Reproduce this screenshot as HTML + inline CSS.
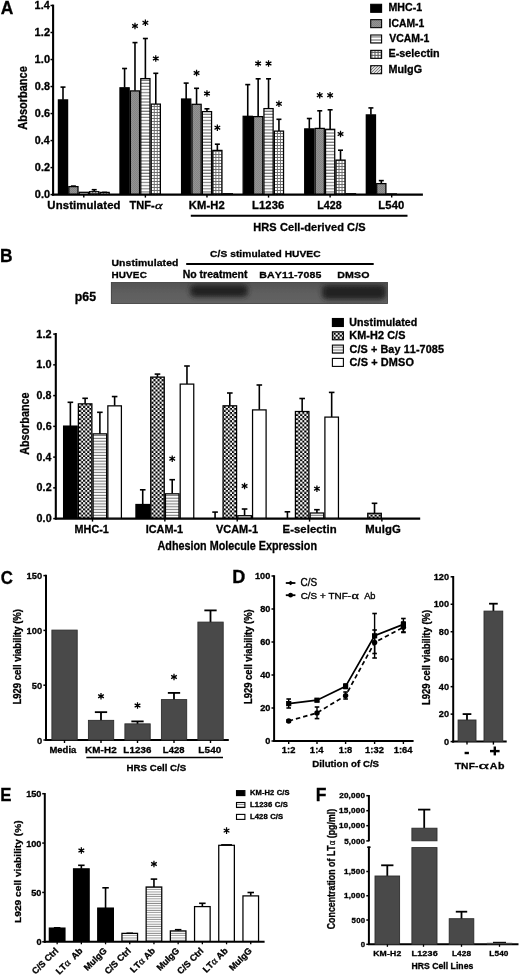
<!DOCTYPE html>
<html><head><meta charset="utf-8"><style>
html,body{margin:0;padding:0;background:#fff;width:520px;height:976px;overflow:hidden}
svg{display:block;font-family:"Liberation Sans",sans-serif}
text{font-kerning:none;stroke:#000;stroke-width:0.3px}
</style></head><body>
<svg width="520" height="976" viewBox="0 0 520 976">
<defs>
<pattern id="pGray" width="2" height="2" patternUnits="userSpaceOnUse"><rect width="2" height="2" fill="#939393"/><rect width="1" height="1" fill="#838383"/><rect x="1" y="1" width="1" height="1" fill="#838383"/></pattern>
<pattern id="pHstripe" width="4" height="3.1" patternUnits="userSpaceOnUse" y="0.3"><rect width="4" height="3.1" fill="#fff"/><rect y="1.9" width="4" height="1.2" fill="#7a7a7a"/></pattern>
<pattern id="pHstripeB" width="4" height="2.85" patternUnits="userSpaceOnUse"><rect width="4" height="2.85" fill="#fff"/><rect y="1.75" width="4" height="1.1" fill="#7a7a7a"/></pattern>
<pattern id="pHstripe2" width="4" height="2.3" patternUnits="userSpaceOnUse"><rect width="4" height="2.3" fill="#fff"/><rect y="1.4" width="4" height="0.9" fill="#8a8a8a"/></pattern>
<pattern id="pGrid" width="3.1" height="3.1" patternUnits="userSpaceOnUse" x="0.4" y="0.3"><rect width="3.1" height="3.1" fill="#fff"/><rect x="2.0" width="1.1" height="3.1" fill="#5a5a5a"/><rect y="2.0" width="3.1" height="1.1" fill="#5a5a5a"/></pattern>
<pattern id="pDiag" width="3" height="3" patternUnits="userSpaceOnUse"><rect width="3" height="3" fill="#ddd"/><path d="M0 3L3 0" stroke="#666" stroke-width="0.8"/></pattern>
<pattern id="pCheck" width="4.1" height="4.1" patternUnits="userSpaceOnUse" x="333.6" y="318.3"><rect width="4.1" height="4.1" fill="#fff"/><rect x="2.05" width="2.05" height="2.05" fill="#000"/><rect y="2.05" width="2.05" height="2.05" fill="#000"/></pattern>
<linearGradient id="blotbg" x1="0" x2="0" y1="0" y2="1"><stop offset="0" stop-color="#525252"/><stop offset="0.5" stop-color="#5e5e5e"/><stop offset="1" stop-color="#646464"/></linearGradient>
<filter id="soft" x="0" y="0" width="100%" height="100%"><feGaussianBlur stdDeviation="0.35"/></filter>
<filter id="blur3" x="-50%" y="-50%" width="200%" height="200%"><feGaussianBlur stdDeviation="2.8"/></filter>
<clipPath id="blotclip"><rect x="111" y="282.2" width="276.8" height="21.6"/></clipPath>
</defs>
<defs><pattern id="grid0" width="3.0" height="3.0" patternUnits="userSpaceOnUse" x="90.2" y="194"><rect width="3" height="3" fill="#fff"/><rect x="2.05" width="0.95" height="3" fill="#6a6a6a"/><rect y="2.05" width="3" height="0.95" fill="#6a6a6a"/></pattern><pattern id="grid1" width="3.0" height="3.0" patternUnits="userSpaceOnUse" x="151.78" y="194"><rect width="3" height="3" fill="#fff"/><rect x="2.05" width="0.95" height="3" fill="#6a6a6a"/><rect y="2.05" width="3" height="0.95" fill="#6a6a6a"/></pattern><pattern id="grid2" width="3.0" height="3.0" patternUnits="userSpaceOnUse" x="213.36" y="194"><rect width="3" height="3" fill="#fff"/><rect x="2.05" width="0.95" height="3" fill="#6a6a6a"/><rect y="2.05" width="3" height="0.95" fill="#6a6a6a"/></pattern><pattern id="grid3" width="3.0" height="3.0" patternUnits="userSpaceOnUse" x="274.94" y="194"><rect width="3" height="3" fill="#fff"/><rect x="2.05" width="0.95" height="3" fill="#6a6a6a"/><rect y="2.05" width="3" height="0.95" fill="#6a6a6a"/></pattern><pattern id="grid4" width="3.0" height="3.0" patternUnits="userSpaceOnUse" x="336.52" y="194"><rect width="3" height="3" fill="#fff"/><rect x="2.05" width="0.95" height="3" fill="#6a6a6a"/><rect y="2.05" width="3" height="0.95" fill="#6a6a6a"/></pattern><pattern id="grid5" width="3.0" height="3.0" patternUnits="userSpaceOnUse" x="398.1" y="194"><rect width="3" height="3" fill="#fff"/><rect x="2.05" width="0.95" height="3" fill="#6a6a6a"/><rect y="2.05" width="3" height="0.95" fill="#6a6a6a"/></pattern><pattern id="chk0" width="4.1" height="4.1" patternUnits="userSpaceOnUse" x="79.05" y="518.6"><rect width="4.1" height="4.1" fill="#fff"/><rect x="2.05" width="2.05" height="2.05" fill="#000"/><rect y="2.05" width="2.05" height="2.05" fill="#000"/></pattern><pattern id="chk1" width="4.1" height="4.1" patternUnits="userSpaceOnUse" x="151.4" y="518.6"><rect width="4.1" height="4.1" fill="#fff"/><rect x="2.05" width="2.05" height="2.05" fill="#000"/><rect y="2.05" width="2.05" height="2.05" fill="#000"/></pattern><pattern id="chk2" width="4.1" height="4.1" patternUnits="userSpaceOnUse" x="223.75" y="518.6"><rect width="4.1" height="4.1" fill="#fff"/><rect x="2.05" width="2.05" height="2.05" fill="#000"/><rect y="2.05" width="2.05" height="2.05" fill="#000"/></pattern><pattern id="chk3" width="4.1" height="4.1" patternUnits="userSpaceOnUse" x="296.1" y="518.6"><rect width="4.1" height="4.1" fill="#fff"/><rect x="2.05" width="2.05" height="2.05" fill="#000"/><rect y="2.05" width="2.05" height="2.05" fill="#000"/></pattern><pattern id="chk4" width="4.1" height="4.1" patternUnits="userSpaceOnUse" x="368.45" y="518.6"><rect width="4.1" height="4.1" fill="#fff"/><rect x="2.05" width="2.05" height="2.05" fill="#000"/><rect y="2.05" width="2.05" height="2.05" fill="#000"/></pattern></defs>
<g filter="url(#soft)">
<rect width="520" height="976" fill="#fff"/>
<text x="0.85" y="13.75" font-size="18.17" font-weight="bold" letter-spacing="0.000" transform="scale(0.9598 1)">A</text>
<line x1="53.1" y1="4.6" x2="53.1" y2="195.6" stroke="#000" stroke-width="2.1"/>
<line x1="52.1" y1="194.6" x2="422.9" y2="194.6" stroke="#000" stroke-width="2.1"/>
<line x1="50.5" y1="194.6" x2="53.1" y2="194.6" stroke="#000" stroke-width="1.5"/>
<text x="32.51" y="198.15" font-size="10.17" font-weight="bold" letter-spacing="0.111" transform="scale(1.0711 1)">0.0</text>
<line x1="50.5" y1="167.59" x2="53.1" y2="167.59" stroke="#000" stroke-width="1.5"/>
<text x="32.53" y="171.14" font-size="10.17" font-weight="bold" letter-spacing="0.110" transform="scale(1.0705 1)">0.2</text>
<line x1="50.5" y1="140.57" x2="53.1" y2="140.57" stroke="#000" stroke-width="1.5"/>
<text x="33.23" y="144.12" font-size="10.17" font-weight="bold" letter-spacing="0.078" transform="scale(1.0480 1)">0.4</text>
<line x1="50.5" y1="113.56" x2="53.1" y2="113.56" stroke="#000" stroke-width="1.5"/>
<text x="32.61" y="117.11" font-size="10.17" font-weight="bold" letter-spacing="0.106" transform="scale(1.0679 1)">0.6</text>
<line x1="50.5" y1="86.54" x2="53.1" y2="86.54" stroke="#000" stroke-width="1.5"/>
<text x="32.72" y="90.09" font-size="10.17" font-weight="bold" letter-spacing="0.101" transform="scale(1.0643 1)">0.8</text>
<line x1="50.5" y1="59.53" x2="53.1" y2="59.53" stroke="#000" stroke-width="1.5"/>
<text x="31.79" y="63.08" font-size="10.17" font-weight="bold" letter-spacing="0.131" transform="scale(1.0870 1)">1.0</text>
<line x1="50.5" y1="32.51" x2="53.1" y2="32.51" stroke="#000" stroke-width="1.5"/>
<text x="31.81" y="36.06" font-size="10.17" font-weight="bold" letter-spacing="0.130" transform="scale(1.0863 1)">1.2</text>
<line x1="50.5" y1="5.5" x2="53.1" y2="5.5" stroke="#000" stroke-width="1.5"/>
<text x="32.91" y="9.05" font-size="10.32" font-weight="bold" letter-spacing="0.082" transform="scale(1.0504 1)">1.4</text>
<text x="-144.04" y="26.55" font-size="12.21" font-weight="bold" letter-spacing="0.000" transform="rotate(-90) scale(0.9006 1)">Absorbance</text>
<line x1="63" y1="99.8" x2="63" y2="87.1" stroke="#000" stroke-width="1.6"/>
<line x1="60.5" y1="87.1" x2="65.5" y2="87.1" stroke="#000" stroke-width="1.6"/>
<rect x="58.4" y="99.9" width="9.2" height="94.2" fill="#000" stroke="#000" stroke-width="1.25"/>
<line x1="73.4" y1="186.5" x2="73.4" y2="186.1" stroke="#000" stroke-width="1.6"/>
<line x1="70.9" y1="186.1" x2="75.9" y2="186.1" stroke="#000" stroke-width="1.6"/>
<rect x="68.8" y="186.6" width="9.2" height="7.5" fill="url(#pGray)" stroke="#000" stroke-width="1.25"/>
<rect x="79.2" y="192.3" width="9.2" height="1.8" fill="url(#pHstripe)" stroke="#000" stroke-width="1.25"/>
<line x1="94.2" y1="191.6" x2="94.2" y2="189.7" stroke="#000" stroke-width="1.6"/>
<line x1="91.7" y1="189.7" x2="96.7" y2="189.7" stroke="#000" stroke-width="1.6"/>
<rect x="89.6" y="191.7" width="9.2" height="2.4" fill="url(#grid0)" stroke="#000" stroke-width="1.25"/>
<line x1="104.6" y1="192.3" x2="104.6" y2="192.4" stroke="#000" stroke-width="1.6"/>
<line x1="102.1" y1="192.4" x2="107.1" y2="192.4" stroke="#000" stroke-width="1.6"/>
<rect x="100" y="192.4" width="9.2" height="1.7" fill="url(#pDiag)" stroke="#000" stroke-width="1.25"/>
<line x1="83.8" y1="194.6" x2="83.8" y2="197.6" stroke="#000" stroke-width="1.4"/>
<line x1="124.58" y1="87.7" x2="124.58" y2="68.5" stroke="#000" stroke-width="1.6"/>
<line x1="122.08" y1="68.5" x2="127.08" y2="68.5" stroke="#000" stroke-width="1.6"/>
<rect x="119.98" y="87.8" width="9.2" height="106.3" fill="#000" stroke="#000" stroke-width="1.25"/>
<line x1="134.98" y1="90.8" x2="134.98" y2="42.6" stroke="#000" stroke-width="1.6"/>
<line x1="132.48" y1="42.6" x2="137.48" y2="42.6" stroke="#000" stroke-width="1.6"/>
<rect x="130.38" y="90.9" width="9.2" height="103.2" fill="url(#pGray)" stroke="#000" stroke-width="1.25"/>
<path d="M134.98 22.7L134.98 29.3M137.84 24.35L132.12 27.65M137.84 27.65L132.12 24.35" stroke="#000" stroke-width="1.25"/>
<circle cx="134.98" cy="26" r="1.1" fill="#000"/>
<line x1="145.38" y1="78.5" x2="145.38" y2="38.5" stroke="#000" stroke-width="1.6"/>
<line x1="142.88" y1="38.5" x2="147.88" y2="38.5" stroke="#000" stroke-width="1.6"/>
<rect x="140.78" y="78.6" width="9.2" height="115.5" fill="url(#pHstripe)" stroke="#000" stroke-width="1.25"/>
<path d="M145.38 19.5L145.38 26.1M148.24 21.15L142.52 24.45M148.24 24.45L142.52 21.15" stroke="#000" stroke-width="1.25"/>
<circle cx="145.38" cy="22.8" r="1.1" fill="#000"/>
<line x1="155.78" y1="104" x2="155.78" y2="73.3" stroke="#000" stroke-width="1.6"/>
<line x1="153.28" y1="73.3" x2="158.28" y2="73.3" stroke="#000" stroke-width="1.6"/>
<rect x="151.18" y="104.1" width="9.2" height="90" fill="url(#grid1)" stroke="#000" stroke-width="1.25"/>
<path d="M155.78 55.2L155.78 61.8M158.64 56.85L152.92 60.15M158.64 60.15L152.92 56.85" stroke="#000" stroke-width="1.25"/>
<circle cx="155.78" cy="58.5" r="1.1" fill="#000"/>
<rect x="161.58" y="194.1" width="9.2" height="-0" fill="url(#pDiag)" stroke="#000" stroke-width="1.25"/>
<line x1="145.38" y1="194.6" x2="145.38" y2="197.6" stroke="#000" stroke-width="1.4"/>
<line x1="186.16" y1="98.9" x2="186.16" y2="83.1" stroke="#000" stroke-width="1.6"/>
<line x1="183.66" y1="83.1" x2="188.66" y2="83.1" stroke="#000" stroke-width="1.6"/>
<rect x="181.56" y="99" width="9.2" height="95.1" fill="#000" stroke="#000" stroke-width="1.25"/>
<line x1="196.56" y1="104.2" x2="196.56" y2="88.3" stroke="#000" stroke-width="1.6"/>
<line x1="194.06" y1="88.3" x2="199.06" y2="88.3" stroke="#000" stroke-width="1.6"/>
<rect x="191.96" y="104.3" width="9.2" height="89.8" fill="url(#pGray)" stroke="#000" stroke-width="1.25"/>
<path d="M196.56 69.7L196.56 76.3M199.42 71.35L193.7 74.65M199.42 74.65L193.7 71.35" stroke="#000" stroke-width="1.25"/>
<circle cx="196.56" cy="73" r="1.1" fill="#000"/>
<line x1="206.96" y1="111.5" x2="206.96" y2="108.8" stroke="#000" stroke-width="1.6"/>
<line x1="204.46" y1="108.8" x2="209.46" y2="108.8" stroke="#000" stroke-width="1.6"/>
<rect x="202.36" y="111.6" width="9.2" height="82.5" fill="url(#pHstripe)" stroke="#000" stroke-width="1.25"/>
<path d="M206.96 90.2L206.96 96.8M209.82 91.85L204.1 95.15M209.82 95.15L204.1 91.85" stroke="#000" stroke-width="1.25"/>
<circle cx="206.96" cy="93.5" r="1.1" fill="#000"/>
<line x1="217.36" y1="150.3" x2="217.36" y2="144.2" stroke="#000" stroke-width="1.6"/>
<line x1="214.86" y1="144.2" x2="219.86" y2="144.2" stroke="#000" stroke-width="1.6"/>
<rect x="212.76" y="150.4" width="9.2" height="43.7" fill="url(#grid2)" stroke="#000" stroke-width="1.25"/>
<path d="M217.36 124.4L217.36 131M220.22 126.05L214.5 129.35M220.22 129.35L214.5 126.05" stroke="#000" stroke-width="1.25"/>
<circle cx="217.36" cy="127.7" r="1.1" fill="#000"/>
<rect x="223.16" y="193.7" width="9.2" height="0.4" fill="url(#pDiag)" stroke="#000" stroke-width="1.25"/>
<line x1="206.96" y1="194.6" x2="206.96" y2="197.6" stroke="#000" stroke-width="1.4"/>
<line x1="247.74" y1="116.2" x2="247.74" y2="84.6" stroke="#000" stroke-width="1.6"/>
<line x1="245.24" y1="84.6" x2="250.24" y2="84.6" stroke="#000" stroke-width="1.6"/>
<rect x="243.14" y="116.3" width="9.2" height="77.8" fill="#000" stroke="#000" stroke-width="1.25"/>
<line x1="258.14" y1="116.5" x2="258.14" y2="78.8" stroke="#000" stroke-width="1.6"/>
<line x1="255.64" y1="78.8" x2="260.64" y2="78.8" stroke="#000" stroke-width="1.6"/>
<rect x="253.54" y="116.6" width="9.2" height="77.5" fill="url(#pGray)" stroke="#000" stroke-width="1.25"/>
<path d="M258.14 60.2L258.14 66.8M261 61.85L255.28 65.15M261 65.15L255.28 61.85" stroke="#000" stroke-width="1.25"/>
<circle cx="258.14" cy="63.5" r="1.1" fill="#000"/>
<line x1="268.54" y1="108.5" x2="268.54" y2="78.8" stroke="#000" stroke-width="1.6"/>
<line x1="266.04" y1="78.8" x2="271.04" y2="78.8" stroke="#000" stroke-width="1.6"/>
<rect x="263.94" y="108.6" width="9.2" height="85.5" fill="url(#pHstripe)" stroke="#000" stroke-width="1.25"/>
<path d="M268.54 60.2L268.54 66.8M271.4 61.85L265.68 65.15M271.4 65.15L265.68 61.85" stroke="#000" stroke-width="1.25"/>
<circle cx="268.54" cy="63.5" r="1.1" fill="#000"/>
<line x1="278.94" y1="131" x2="278.94" y2="119.3" stroke="#000" stroke-width="1.6"/>
<line x1="276.44" y1="119.3" x2="281.44" y2="119.3" stroke="#000" stroke-width="1.6"/>
<rect x="274.34" y="131.1" width="9.2" height="63" fill="url(#grid3)" stroke="#000" stroke-width="1.25"/>
<path d="M278.94 100.5L278.94 107.1M281.8 102.15L276.08 105.45M281.8 105.45L276.08 102.15" stroke="#000" stroke-width="1.25"/>
<circle cx="278.94" cy="103.8" r="1.1" fill="#000"/>
<rect x="284.74" y="194.3" width="9.2" height="-0.2" fill="url(#pDiag)" stroke="#000" stroke-width="1.25"/>
<line x1="268.54" y1="194.6" x2="268.54" y2="197.6" stroke="#000" stroke-width="1.4"/>
<line x1="309.32" y1="128.8" x2="309.32" y2="118.5" stroke="#000" stroke-width="1.6"/>
<line x1="306.82" y1="118.5" x2="311.82" y2="118.5" stroke="#000" stroke-width="1.6"/>
<rect x="304.72" y="128.9" width="9.2" height="65.2" fill="#000" stroke="#000" stroke-width="1.25"/>
<line x1="319.72" y1="128.3" x2="319.72" y2="110.8" stroke="#000" stroke-width="1.6"/>
<line x1="317.22" y1="110.8" x2="322.22" y2="110.8" stroke="#000" stroke-width="1.6"/>
<rect x="315.12" y="128.4" width="9.2" height="65.7" fill="url(#pGray)" stroke="#000" stroke-width="1.25"/>
<path d="M319.72 91.9L319.72 98.5M322.58 93.55L316.86 96.85M322.58 96.85L316.86 93.55" stroke="#000" stroke-width="1.25"/>
<circle cx="319.72" cy="95.2" r="1.1" fill="#000"/>
<line x1="330.12" y1="129.2" x2="330.12" y2="109.8" stroke="#000" stroke-width="1.6"/>
<line x1="327.62" y1="109.8" x2="332.62" y2="109.8" stroke="#000" stroke-width="1.6"/>
<rect x="325.52" y="129.3" width="9.2" height="64.8" fill="url(#pHstripe)" stroke="#000" stroke-width="1.25"/>
<path d="M330.12 91.9L330.12 98.5M332.98 93.55L327.26 96.85M332.98 96.85L327.26 93.55" stroke="#000" stroke-width="1.25"/>
<circle cx="330.12" cy="95.2" r="1.1" fill="#000"/>
<line x1="340.52" y1="160" x2="340.52" y2="150.2" stroke="#000" stroke-width="1.6"/>
<line x1="338.02" y1="150.2" x2="343.02" y2="150.2" stroke="#000" stroke-width="1.6"/>
<rect x="335.92" y="160.1" width="9.2" height="34" fill="url(#grid4)" stroke="#000" stroke-width="1.25"/>
<path d="M340.52 130.7L340.52 137.3M343.38 132.35L337.66 135.65M343.38 135.65L337.66 132.35" stroke="#000" stroke-width="1.25"/>
<circle cx="340.52" cy="134" r="1.1" fill="#000"/>
<rect x="346.32" y="193.7" width="9.2" height="0.4" fill="url(#pDiag)" stroke="#000" stroke-width="1.25"/>
<line x1="330.12" y1="194.6" x2="330.12" y2="197.6" stroke="#000" stroke-width="1.4"/>
<line x1="370.9" y1="114.8" x2="370.9" y2="107.9" stroke="#000" stroke-width="1.6"/>
<line x1="368.4" y1="107.9" x2="373.4" y2="107.9" stroke="#000" stroke-width="1.6"/>
<rect x="366.3" y="114.9" width="9.2" height="79.2" fill="#000" stroke="#000" stroke-width="1.25"/>
<line x1="381.3" y1="183.5" x2="381.3" y2="180.6" stroke="#000" stroke-width="1.6"/>
<line x1="378.8" y1="180.6" x2="383.8" y2="180.6" stroke="#000" stroke-width="1.6"/>
<rect x="376.7" y="183.6" width="9.2" height="10.5" fill="url(#pGray)" stroke="#000" stroke-width="1.25"/>
<rect x="387.1" y="193.9" width="9.2" height="0.2" fill="url(#pHstripe)" stroke="#000" stroke-width="1.25"/>
<rect x="397.5" y="194.1" width="9.2" height="-0" fill="url(#grid5)" stroke="#000" stroke-width="1.25"/>
<rect x="407.9" y="194.1" width="9.2" height="-0" fill="url(#pDiag)" stroke="#000" stroke-width="1.25"/>
<line x1="391.7" y1="194.6" x2="391.7" y2="197.6" stroke="#000" stroke-width="1.4"/>
<text x="43.57" y="208.55" font-size="10.43" font-weight="bold" letter-spacing="0.118" transform="scale(1.0872 1)">Unstimulated</text>
<text x="125.44" y="208.55" font-size="10.61" font-weight="bold" letter-spacing="0.064" transform="scale(1.0334 1)">TNF-</text>
<text x="110.68" y="209.05" font-size="10.18" font-weight="normal" letter-spacing="0.000" transform="scale(1.3996 1)" font-family="Liberation Serif"><tspan font-style="italic">α</tspan></text>
<text x="176.39" y="208.55" font-size="10.45" font-weight="bold" letter-spacing="0.131" transform="scale(1.0703 1)">KM-H2</text>
<text x="234.69" y="208.55" font-size="10.45" font-weight="bold" letter-spacing="0.123" transform="scale(1.0737 1)">L1236</text>
<text x="309.72" y="208.55" font-size="10.45" font-weight="bold" letter-spacing="0.045" transform="scale(1.0242 1)">L428</text>
<text x="351.09" y="208.55" font-size="10.45" font-weight="bold" letter-spacing="0.136" transform="scale(1.0775 1)">L540</text>
<line x1="190.8" y1="215.7" x2="407.5" y2="215.7" stroke="#000" stroke-width="1.9"/>
<text x="238.15" y="231.25" font-size="10.36" font-weight="bold" letter-spacing="0.081" transform="scale(1.0634 1)">HRS Cell-derived C/S</text>
<rect x="370.7" y="4.3" width="10.9" height="8" fill="#000" stroke="#000" stroke-width="1.1"/>
<text x="393.24" y="11.25" font-size="10.74" font-weight="bold" letter-spacing="0.000" transform="scale(0.9880 1)">MHC-1</text>
<rect x="370.7" y="19.65" width="10.9" height="8" fill="url(#pGray)" stroke="#000" stroke-width="1.1"/>
<text x="402.88" y="26.6" font-size="10.74" font-weight="bold" letter-spacing="0.000" transform="scale(0.9645 1)">ICAM-1</text>
<rect x="370.7" y="35" width="10.9" height="8" fill="url(#pHstripe)" stroke="#000" stroke-width="1.1"/>
<text x="398" y="41.95" font-size="10.74" font-weight="bold" letter-spacing="0.000" transform="scale(0.9778 1)">VCAM-1</text>
<rect x="370.7" y="50.35" width="10.9" height="8" fill="url(#pGrid)" stroke="#000" stroke-width="1.1"/>
<text x="385.61" y="57.3" font-size="10.71" font-weight="bold" letter-spacing="0.010" transform="scale(1.0076 1)">E-selectin</text>
<rect x="370.7" y="65.7" width="10.9" height="8" fill="url(#pDiag)" stroke="#000" stroke-width="1.1"/>
<text x="386.05" y="72.65" font-size="10.71" font-weight="bold" letter-spacing="0.013" transform="scale(1.0064 1)">MulgG</text>
<text x="0.1" y="262.05" font-size="18.97" font-weight="bold" letter-spacing="0.000" transform="scale(0.9163 1)">B</text>
<text x="104.08" y="266.35" font-size="9.71" font-weight="bold" letter-spacing="0.092" transform="scale(1.0715 1)">Unstimulated</text>
<text x="104.4" y="277.95" font-size="9.31" font-weight="bold" letter-spacing="0.126" transform="scale(1.0679 1)">HUVEC</text>
<text x="200.1" y="257.35" font-size="9.71" font-weight="bold" letter-spacing="0.065" transform="scale(1.0501 1)">C/S stimulated HUVEC</text>
<line x1="186.2" y1="263.9" x2="373.7" y2="263.9" stroke="#000" stroke-width="2"/>
<text x="179.75" y="277.75" font-size="10.32" font-weight="bold" letter-spacing="0.023" transform="scale(1.0161 1)">No treatment</text>
<text x="242.41" y="277.75" font-size="9.88" font-weight="bold" letter-spacing="0.102" transform="scale(1.0698 1)">BAY11-7085</text>
<text x="314.11" y="277.75" font-size="9.88" font-weight="bold" letter-spacing="0.163" transform="scale(1.0736 1)">DMSO</text>
<text x="73.65" y="301.05" font-size="12.17" font-weight="bold" letter-spacing="0.036" transform="scale(1.0147 1)">p65</text>
<rect x="111" y="282.2" width="276.8" height="21.6" fill="url(#blotbg)"/>
<g clip-path="url(#blotclip)"><rect x="190" y="284.5" width="58" height="12.5" rx="5" fill="#242424" filter="url(#blur3)"/>
<rect x="322" y="285" width="64" height="14.5" rx="5" fill="#202020" filter="url(#blur3)"/></g>
<rect x="111.3" y="282.5" width="276.2" height="21" fill="none" stroke="#444" stroke-width="0.8"/>
<line x1="55.8" y1="333" x2="55.8" y2="519.6" stroke="#000" stroke-width="2.1"/>
<line x1="54.8" y1="518.6" x2="420.2" y2="518.6" stroke="#000" stroke-width="2.1"/>
<line x1="53.2" y1="518.6" x2="55.8" y2="518.6" stroke="#000" stroke-width="1.5"/>
<text x="34.09" y="522.1" font-size="10.03" font-weight="bold" letter-spacing="0.109" transform="scale(1.0714 1)">0.0</text>
<line x1="53.2" y1="487.85" x2="55.8" y2="487.85" stroke="#000" stroke-width="1.5"/>
<text x="34.11" y="491.35" font-size="10.03" font-weight="bold" letter-spacing="0.108" transform="scale(1.0707 1)">0.2</text>
<line x1="53.2" y1="457.1" x2="55.8" y2="457.1" stroke="#000" stroke-width="1.5"/>
<text x="34.85" y="460.6" font-size="10.03" font-weight="bold" letter-spacing="0.078" transform="scale(1.0483 1)">0.4</text>
<line x1="53.2" y1="426.35" x2="55.8" y2="426.35" stroke="#000" stroke-width="1.5"/>
<text x="34.2" y="429.85" font-size="10.03" font-weight="bold" letter-spacing="0.105" transform="scale(1.0681 1)">0.6</text>
<line x1="53.2" y1="395.6" x2="55.8" y2="395.6" stroke="#000" stroke-width="1.5"/>
<text x="34.31" y="399.1" font-size="10.03" font-weight="bold" letter-spacing="0.100" transform="scale(1.0646 1)">0.8</text>
<line x1="53.2" y1="364.85" x2="55.8" y2="364.85" stroke="#000" stroke-width="1.5"/>
<text x="33.35" y="368.35" font-size="10.03" font-weight="bold" letter-spacing="0.129" transform="scale(1.0873 1)">1.0</text>
<line x1="53.2" y1="334.1" x2="55.8" y2="334.1" stroke="#000" stroke-width="1.5"/>
<text x="33.37" y="337.6" font-size="10.03" font-weight="bold" letter-spacing="0.129" transform="scale(1.0866 1)">1.2</text>
<text x="-514.82" y="28.55" font-size="12.21" font-weight="bold" letter-spacing="0.000" transform="rotate(-90) scale(0.8835 1)">Absorbance</text>
<line x1="70.38" y1="426" x2="70.38" y2="402.3" stroke="#000" stroke-width="1.6"/>
<line x1="67.58" y1="402.3" x2="73.17" y2="402.3" stroke="#000" stroke-width="1.6"/>
<rect x="63.6" y="426.1" width="13.55" height="92" fill="#000" stroke="#000" stroke-width="1.25"/>
<line x1="85.12" y1="403.75" x2="85.12" y2="398.3" stroke="#000" stroke-width="1.6"/>
<line x1="82.33" y1="398.3" x2="87.92" y2="398.3" stroke="#000" stroke-width="1.6"/>
<rect x="78.35" y="403.85" width="13.55" height="114.25" fill="url(#chk0)" stroke="#000" stroke-width="1.25"/>
<line x1="99.88" y1="433.75" x2="99.88" y2="412.3" stroke="#000" stroke-width="1.6"/>
<line x1="97.08" y1="412.3" x2="102.67" y2="412.3" stroke="#000" stroke-width="1.6"/>
<rect x="93.1" y="433.85" width="13.55" height="84.25" fill="url(#pHstripeB)" stroke="#000" stroke-width="1.25"/>
<line x1="114.62" y1="405.75" x2="114.62" y2="396.55" stroke="#000" stroke-width="1.6"/>
<line x1="111.83" y1="396.55" x2="117.42" y2="396.55" stroke="#000" stroke-width="1.6"/>
<rect x="107.85" y="405.85" width="13.55" height="112.25" fill="#fff" stroke="#000" stroke-width="1.25"/>
<line x1="92.5" y1="518.6" x2="92.5" y2="521.6" stroke="#000" stroke-width="1.4"/>
<line x1="142.72" y1="504.4" x2="142.72" y2="489.8" stroke="#000" stroke-width="1.6"/>
<line x1="139.92" y1="489.8" x2="145.53" y2="489.8" stroke="#000" stroke-width="1.6"/>
<rect x="135.95" y="504.5" width="13.55" height="13.6" fill="#000" stroke="#000" stroke-width="1.25"/>
<line x1="157.47" y1="377" x2="157.47" y2="374.1" stroke="#000" stroke-width="1.6"/>
<line x1="154.67" y1="374.1" x2="160.28" y2="374.1" stroke="#000" stroke-width="1.6"/>
<rect x="150.7" y="377.1" width="13.55" height="141" fill="url(#chk1)" stroke="#000" stroke-width="1.25"/>
<line x1="172.22" y1="493.7" x2="172.22" y2="479.7" stroke="#000" stroke-width="1.6"/>
<line x1="169.42" y1="479.7" x2="175.03" y2="479.7" stroke="#000" stroke-width="1.6"/>
<rect x="165.45" y="493.8" width="13.55" height="24.3" fill="url(#pHstripeB)" stroke="#000" stroke-width="1.25"/>
<path d="M172.22 455.4L172.22 462M175.08 457.05L169.37 460.35M175.08 460.35L169.37 457.05" stroke="#000" stroke-width="1.25"/>
<circle cx="172.22" cy="458.7" r="1.1" fill="#000"/>
<line x1="186.97" y1="384" x2="186.97" y2="366" stroke="#000" stroke-width="1.6"/>
<line x1="184.17" y1="366" x2="189.78" y2="366" stroke="#000" stroke-width="1.6"/>
<rect x="180.2" y="384.1" width="13.55" height="134" fill="#fff" stroke="#000" stroke-width="1.25"/>
<line x1="164.85" y1="518.6" x2="164.85" y2="521.6" stroke="#000" stroke-width="1.4"/>
<line x1="215.07" y1="518.6" x2="215.07" y2="512.1" stroke="#000" stroke-width="1.6"/>
<line x1="212.27" y1="512.1" x2="217.88" y2="512.1" stroke="#000" stroke-width="1.6"/>
<line x1="229.82" y1="405.7" x2="229.82" y2="393" stroke="#000" stroke-width="1.6"/>
<line x1="227.02" y1="393" x2="232.62" y2="393" stroke="#000" stroke-width="1.6"/>
<rect x="223.05" y="405.8" width="13.55" height="112.3" fill="url(#chk2)" stroke="#000" stroke-width="1.25"/>
<line x1="244.57" y1="515.6" x2="244.57" y2="509" stroke="#000" stroke-width="1.6"/>
<line x1="241.77" y1="509" x2="247.38" y2="509" stroke="#000" stroke-width="1.6"/>
<rect x="237.8" y="515.7" width="13.55" height="2.4" fill="url(#pHstripeB)" stroke="#000" stroke-width="1.25"/>
<path d="M244.57 482.7L244.57 489.3M247.43 484.35L241.72 487.65M247.43 487.65L241.72 484.35" stroke="#000" stroke-width="1.25"/>
<circle cx="244.57" cy="486" r="1.1" fill="#000"/>
<line x1="259.32" y1="409.8" x2="259.32" y2="385" stroke="#000" stroke-width="1.6"/>
<line x1="256.52" y1="385" x2="262.12" y2="385" stroke="#000" stroke-width="1.6"/>
<rect x="252.55" y="409.9" width="13.55" height="108.2" fill="#fff" stroke="#000" stroke-width="1.25"/>
<line x1="237.2" y1="518.6" x2="237.2" y2="521.6" stroke="#000" stroke-width="1.4"/>
<line x1="287.42" y1="518.6" x2="287.42" y2="511.8" stroke="#000" stroke-width="1.6"/>
<line x1="284.62" y1="511.8" x2="290.22" y2="511.8" stroke="#000" stroke-width="1.6"/>
<line x1="302.17" y1="411.4" x2="302.17" y2="398.5" stroke="#000" stroke-width="1.6"/>
<line x1="299.37" y1="398.5" x2="304.97" y2="398.5" stroke="#000" stroke-width="1.6"/>
<rect x="295.4" y="411.5" width="13.55" height="106.6" fill="url(#chk3)" stroke="#000" stroke-width="1.25"/>
<line x1="316.92" y1="512.9" x2="316.92" y2="509.7" stroke="#000" stroke-width="1.6"/>
<line x1="314.12" y1="509.7" x2="319.72" y2="509.7" stroke="#000" stroke-width="1.6"/>
<rect x="310.15" y="513" width="13.55" height="5.1" fill="url(#pHstripeB)" stroke="#000" stroke-width="1.25"/>
<path d="M316.92 485.4L316.92 492M319.78 487.05L314.07 490.35M319.78 490.35L314.07 487.05" stroke="#000" stroke-width="1.25"/>
<circle cx="316.92" cy="488.7" r="1.1" fill="#000"/>
<line x1="331.67" y1="417" x2="331.67" y2="392.4" stroke="#000" stroke-width="1.6"/>
<line x1="328.87" y1="392.4" x2="334.47" y2="392.4" stroke="#000" stroke-width="1.6"/>
<rect x="324.9" y="417.1" width="13.55" height="101" fill="#fff" stroke="#000" stroke-width="1.25"/>
<line x1="309.55" y1="518.6" x2="309.55" y2="521.6" stroke="#000" stroke-width="1.4"/>
<line x1="374.52" y1="513.2" x2="374.52" y2="503.3" stroke="#000" stroke-width="1.6"/>
<line x1="371.72" y1="503.3" x2="377.32" y2="503.3" stroke="#000" stroke-width="1.6"/>
<rect x="367.75" y="513.3" width="13.55" height="4.8" fill="url(#chk4)" stroke="#000" stroke-width="1.25"/>
<line x1="381.9" y1="518.6" x2="381.9" y2="521.6" stroke="#000" stroke-width="1.4"/>
<text x="75.15" y="532.75" font-size="10.88" font-weight="bold" letter-spacing="0.000" transform="scale(0.9930 1)">MHC-1</text>
<text x="145.96" y="532.75" font-size="10.88" font-weight="bold" letter-spacing="0.000" transform="scale(0.9984 1)">ICAM-1</text>
<text x="214.52" y="532.75" font-size="10.88" font-weight="bold" letter-spacing="0.014" transform="scale(1.0068 1)">VCAM-1</text>
<text x="270.83" y="532.75" font-size="10.86" font-weight="bold" letter-spacing="0.058" transform="scale(1.0434 1)">E-selectin</text>
<text x="350.31" y="532.75" font-size="10.86" font-weight="bold" letter-spacing="0.083" transform="scale(1.0428 1)">MulgG</text>
<text x="185.51" y="550.35" font-size="12.71" font-weight="bold" letter-spacing="0.000" transform="scale(0.8494 1)">Adhesion Molecule Expression</text>
<rect x="332.4" y="318.5" width="11" height="8" fill="#000" stroke="#000" stroke-width="1.1"/>
<text x="333.49" y="326.15" font-size="10.14" font-weight="bold" letter-spacing="0.065" transform="scale(1.0474 1)">Unstimulated</text>
<rect x="332.4" y="331.8" width="11" height="8" fill="url(#pCheck)" stroke="#000" stroke-width="1.1"/>
<text x="326.91" y="339.4" font-size="10.14" font-weight="bold" letter-spacing="0.101" transform="scale(1.0683 1)">KM-H2 C/S</text>
<rect x="332.4" y="345.1" width="11" height="8" fill="url(#pHstripeB)" stroke="#000" stroke-width="1.1"/>
<text x="327.15" y="352.65" font-size="10.14" font-weight="bold" letter-spacing="0.086" transform="scale(1.0683 1)">C/S + Bay 11-7085</text>
<rect x="332.4" y="358.4" width="11" height="8" fill="#fff" stroke="#000" stroke-width="1.1"/>
<text x="324.69" y="365.9" font-size="10.14" font-weight="bold" letter-spacing="0.114" transform="scale(1.0764 1)">C/S + DMSO</text>
<text x="0.95" y="584.05" font-size="18.62" font-weight="bold" letter-spacing="0.000" transform="scale(0.9037 1)">C</text>
<line x1="46" y1="574.8" x2="46" y2="741" stroke="#000" stroke-width="2"/>
<line x1="45" y1="740" x2="228.8" y2="740" stroke="#000" stroke-width="2"/>
<line x1="43.4" y1="740" x2="46" y2="740" stroke="#000" stroke-width="1.5"/>
<text x="36.95" y="743.55" font-size="9.31" font-weight="bold" letter-spacing="0.000" transform="scale(1.0000 1)">0</text>
<line x1="43.4" y1="685.2" x2="46" y2="685.2" stroke="#000" stroke-width="1.5"/>
<text x="31.78" y="688.75" font-size="9.31" font-weight="bold" letter-spacing="0.000" transform="scale(1.0000 1)">50</text>
<line x1="43.4" y1="630.4" x2="46" y2="630.4" stroke="#000" stroke-width="1.5"/>
<text x="26.6" y="633.95" font-size="9.31" font-weight="bold" letter-spacing="0.000" transform="scale(1.0000 1)">100</text>
<line x1="43.4" y1="575.6" x2="46" y2="575.6" stroke="#000" stroke-width="1.5"/>
<text x="26.6" y="579.15" font-size="9.31" font-weight="bold" letter-spacing="0.000" transform="scale(1.0000 1)">150</text>
<text x="-744.17" y="20.55" font-size="10.03" font-weight="bold" letter-spacing="0.000" transform="rotate(-90) scale(0.9467 1)">L929 cell viability (%)</text>
<rect x="51.9" y="630.1" width="25.3" height="109.9" fill="#4a4a4a" stroke="#2c2c2c" stroke-width="0.9"/>
<line x1="64.5" y1="740" x2="64.5" y2="743" stroke="#000" stroke-width="1.4"/>
<line x1="101" y1="720.75" x2="101" y2="712.15" stroke="#000" stroke-width="1.8"/>
<line x1="94.85" y1="712.15" x2="107.15" y2="712.15" stroke="#000" stroke-width="1.8"/>
<rect x="88.4" y="720.35" width="25.3" height="19.65" fill="#4a4a4a" stroke="#2c2c2c" stroke-width="0.9"/>
<path d="M101 692.95L101 699.55M103.86 694.6L98.14 697.9M103.86 697.9L98.14 694.6" stroke="#000" stroke-width="1.25"/>
<circle cx="101" cy="696.25" r="1.1" fill="#000"/>
<line x1="101" y1="740" x2="101" y2="743" stroke="#000" stroke-width="1.4"/>
<line x1="137.5" y1="724.25" x2="137.5" y2="721.4" stroke="#000" stroke-width="1.8"/>
<line x1="131.35" y1="721.4" x2="143.65" y2="721.4" stroke="#000" stroke-width="1.8"/>
<rect x="124.9" y="723.85" width="25.3" height="16.15" fill="#4a4a4a" stroke="#2c2c2c" stroke-width="0.9"/>
<path d="M137.5 702.2L137.5 708.8M140.36 703.85L134.64 707.15M140.36 707.15L134.64 703.85" stroke="#000" stroke-width="1.25"/>
<circle cx="137.5" cy="705.5" r="1.1" fill="#000"/>
<line x1="137.5" y1="740" x2="137.5" y2="743" stroke="#000" stroke-width="1.4"/>
<line x1="174" y1="700" x2="174" y2="692.9" stroke="#000" stroke-width="1.8"/>
<line x1="167.85" y1="692.9" x2="180.15" y2="692.9" stroke="#000" stroke-width="1.8"/>
<rect x="161.4" y="699.6" width="25.3" height="40.4" fill="#4a4a4a" stroke="#2c2c2c" stroke-width="0.9"/>
<path d="M174 673.7L174 680.3M176.86 675.35L171.14 678.65M176.86 678.65L171.14 675.35" stroke="#000" stroke-width="1.25"/>
<circle cx="174" cy="677" r="1.1" fill="#000"/>
<line x1="174" y1="740" x2="174" y2="743" stroke="#000" stroke-width="1.4"/>
<line x1="210.5" y1="622.5" x2="210.5" y2="610.4" stroke="#000" stroke-width="1.8"/>
<line x1="204.35" y1="610.4" x2="216.65" y2="610.4" stroke="#000" stroke-width="1.8"/>
<rect x="197.9" y="622.1" width="25.3" height="117.9" fill="#4a4a4a" stroke="#2c2c2c" stroke-width="0.9"/>
<line x1="210.5" y1="740" x2="210.5" y2="743" stroke="#000" stroke-width="1.4"/>
<text x="47.84" y="752.65" font-size="9.14" font-weight="bold" letter-spacing="0.050" transform="scale(1.0329 1)">Media</text>
<text x="79.22" y="752.65" font-size="9.17" font-weight="bold" letter-spacing="0.119" transform="scale(1.0729 1)">KM-H2</text>
<text x="116.1" y="752.65" font-size="9.17" font-weight="bold" letter-spacing="0.092" transform="scale(1.0624 1)">L1236</text>
<text x="158.1" y="752.65" font-size="9.17" font-weight="bold" letter-spacing="0.049" transform="scale(1.0301 1)">L428</text>
<text x="182.91" y="752.65" font-size="9.17" font-weight="bold" letter-spacing="0.129" transform="scale(1.0843 1)">L540</text>
<line x1="86.3" y1="757.5" x2="223" y2="757.5" stroke="#000" stroke-width="1.6"/>
<text x="126.09" y="771" font-size="9.64" font-weight="bold" letter-spacing="0.005" transform="scale(1.0040 1)">HRS Cell C/S</text>
<text x="232.1" y="583.5" font-size="18.1" font-weight="bold" letter-spacing="0.000" transform="scale(1.0002 1)">D</text>
<line x1="274.1" y1="575.2" x2="274.1" y2="742" stroke="#000" stroke-width="2"/>
<line x1="273.1" y1="741" x2="413.6" y2="741" stroke="#000" stroke-width="2"/>
<line x1="271.5" y1="741" x2="274.1" y2="741" stroke="#000" stroke-width="1.5"/>
<text x="265.23" y="744.2" font-size="9.17" font-weight="bold" letter-spacing="0.000" transform="scale(1.0000 1)">0</text>
<line x1="271.5" y1="708" x2="274.1" y2="708" stroke="#000" stroke-width="1.5"/>
<text x="260.13" y="711.2" font-size="9.17" font-weight="bold" letter-spacing="0.000" transform="scale(1.0000 1)">20</text>
<line x1="271.5" y1="675" x2="274.1" y2="675" stroke="#000" stroke-width="1.5"/>
<text x="260.13" y="678.2" font-size="9.17" font-weight="bold" letter-spacing="0.000" transform="scale(1.0000 1)">40</text>
<line x1="271.5" y1="642" x2="274.1" y2="642" stroke="#000" stroke-width="1.5"/>
<text x="260.13" y="645.2" font-size="9.17" font-weight="bold" letter-spacing="0.000" transform="scale(1.0000 1)">60</text>
<line x1="271.5" y1="609" x2="274.1" y2="609" stroke="#000" stroke-width="1.5"/>
<text x="260.13" y="612.2" font-size="9.17" font-weight="bold" letter-spacing="0.000" transform="scale(1.0000 1)">80</text>
<line x1="271.5" y1="576" x2="274.1" y2="576" stroke="#000" stroke-width="1.5"/>
<text x="255.03" y="579.2" font-size="9.17" font-weight="bold" letter-spacing="0.000" transform="scale(1.0000 1)">100</text>
<text x="-759.35" y="252.45" font-size="10.17" font-weight="bold" letter-spacing="0.000" transform="rotate(-90) scale(0.9272 1)">L929 cell viability (%)</text>
<line x1="288.7" y1="741" x2="288.7" y2="744" stroke="#000" stroke-width="1.4"/>
<text x="273.36" y="753.45" font-size="9.02" font-weight="bold" letter-spacing="0.045" transform="scale(1.0310 1)">1:2</text>
<line x1="317" y1="741" x2="317" y2="744" stroke="#000" stroke-width="1.4"/>
<text x="300.16" y="753.45" font-size="9.16" font-weight="bold" letter-spacing="0.049" transform="scale(1.0323 1)">1:4</text>
<line x1="345.6" y1="741" x2="345.6" y2="744" stroke="#000" stroke-width="1.4"/>
<text x="328.43" y="753.45" font-size="9.02" font-weight="bold" letter-spacing="0.046" transform="scale(1.0312 1)">1:8</text>
<line x1="374.6" y1="741" x2="374.6" y2="744" stroke="#000" stroke-width="1.4"/>
<text x="350.75" y="753.45" font-size="9.02" font-weight="bold" letter-spacing="0.056" transform="scale(1.0406 1)">1:32</text>
<line x1="403.4" y1="741" x2="403.4" y2="744" stroke="#000" stroke-width="1.4"/>
<text x="378.11" y="753.45" font-size="9.02" font-weight="bold" letter-spacing="0.057" transform="scale(1.0411 1)">1:64</text>
<text x="308.92" y="767.25" font-size="9.57" font-weight="bold" letter-spacing="0.013" transform="scale(1.0110 1)">Dilution of C/S</text>
<line x1="288.7" y1="699" x2="288.7" y2="708" stroke="#000" stroke-width="1.4"/>
<line x1="286.4" y1="699" x2="291" y2="699" stroke="#000" stroke-width="1.6"/>
<line x1="286.4" y1="708" x2="291" y2="708" stroke="#000" stroke-width="1.6"/>
<line x1="317" y1="699" x2="317" y2="701.5" stroke="#000" stroke-width="1.4"/>
<line x1="314.7" y1="699" x2="319.3" y2="699" stroke="#000" stroke-width="1.6"/>
<line x1="314.7" y1="701.5" x2="319.3" y2="701.5" stroke="#000" stroke-width="1.6"/>
<line x1="345.6" y1="684" x2="345.6" y2="688.5" stroke="#000" stroke-width="1.4"/>
<line x1="343.3" y1="684" x2="347.9" y2="684" stroke="#000" stroke-width="1.6"/>
<line x1="343.3" y1="688.5" x2="347.9" y2="688.5" stroke="#000" stroke-width="1.6"/>
<line x1="374.6" y1="613.5" x2="374.6" y2="653.5" stroke="#000" stroke-width="1.4"/>
<line x1="372.3" y1="613.5" x2="376.9" y2="613.5" stroke="#000" stroke-width="1.6"/>
<line x1="372.3" y1="653.5" x2="376.9" y2="653.5" stroke="#000" stroke-width="1.6"/>
<line x1="403.4" y1="618.5" x2="403.4" y2="632.5" stroke="#000" stroke-width="1.4"/>
<line x1="401.1" y1="618.5" x2="405.7" y2="618.5" stroke="#000" stroke-width="1.6"/>
<line x1="401.1" y1="632.5" x2="405.7" y2="632.5" stroke="#000" stroke-width="1.6"/>
<line x1="288.7" y1="720" x2="288.7" y2="722" stroke="#000" stroke-width="1.4"/>
<line x1="286.4" y1="720" x2="291" y2="720" stroke="#000" stroke-width="1.6"/>
<line x1="286.4" y1="722" x2="291" y2="722" stroke="#000" stroke-width="1.6"/>
<line x1="317" y1="707" x2="317" y2="718.6" stroke="#000" stroke-width="1.4"/>
<line x1="314.7" y1="707" x2="319.3" y2="707" stroke="#000" stroke-width="1.6"/>
<line x1="314.7" y1="718.6" x2="319.3" y2="718.6" stroke="#000" stroke-width="1.6"/>
<line x1="345.6" y1="692" x2="345.6" y2="699" stroke="#000" stroke-width="1.4"/>
<line x1="343.3" y1="692" x2="347.9" y2="692" stroke="#000" stroke-width="1.6"/>
<line x1="343.3" y1="699" x2="347.9" y2="699" stroke="#000" stroke-width="1.6"/>
<line x1="374.6" y1="630" x2="374.6" y2="658" stroke="#000" stroke-width="1.4"/>
<line x1="372.3" y1="630" x2="376.9" y2="630" stroke="#000" stroke-width="1.6"/>
<line x1="372.3" y1="658" x2="376.9" y2="658" stroke="#000" stroke-width="1.6"/>
<line x1="403.4" y1="622" x2="403.4" y2="632" stroke="#000" stroke-width="1.4"/>
<line x1="401.1" y1="622" x2="405.7" y2="622" stroke="#000" stroke-width="1.6"/>
<line x1="401.1" y1="632" x2="405.7" y2="632" stroke="#000" stroke-width="1.6"/>
<polyline points="288.7,703.6 317,700.2 345.6,686.3 374.6,635.8 403.4,624.4" fill="none" stroke="#000" stroke-width="1.7"/>
<polyline points="288.7,721 317,712.9 345.6,695.6 374.6,642.5 403.4,627.2" fill="none" stroke="#000" stroke-width="1.7" stroke-dasharray="4.5 3"/>
<rect x="286.1" y="701" width="5.2" height="5.2" fill="#000"/>
<rect x="314.4" y="697.6" width="5.2" height="5.2" fill="#000"/>
<rect x="343" y="683.7" width="5.2" height="5.2" fill="#000"/>
<rect x="372" y="633.2" width="5.2" height="5.2" fill="#000"/>
<rect x="400.8" y="621.8" width="5.2" height="5.2" fill="#000"/>
<circle cx="288.7" cy="721" r="2.7" fill="#000"/>
<circle cx="317" cy="712.9" r="2.7" fill="#000"/>
<circle cx="345.6" cy="695.6" r="2.7" fill="#000"/>
<circle cx="374.6" cy="642.5" r="2.7" fill="#000"/>
<circle cx="403.4" cy="627.2" r="2.7" fill="#000"/>
<line x1="285.8" y1="583" x2="295.4" y2="583" stroke="#000" stroke-width="1.8"/>
<path d="M290.6 580.7L293.4 583.0L290.6 585.3L287.8 583.0Z" fill="#000"/>
<text x="302.63" y="586.45" font-size="10" font-weight="normal" letter-spacing="0.000" transform="scale(0.9934 1)" style="stroke-width:0.35px">C/S</text>
<line x1="285.8" y1="595.2" x2="295.4" y2="595.2" stroke="#000" stroke-width="1.8"/>
<circle cx="290.6" cy="595.2" r="2.4" fill="#000"/>
<text x="291.59" y="598.55" font-size="9.57" font-weight="normal" letter-spacing="0.040" transform="scale(1.0311 1)" style="stroke-width:0.35px">C/S + TNF-</text>
<text x="239.07" y="598.75" font-size="9.54" font-weight="normal" letter-spacing="0.000" transform="scale(1.4703 1)" font-family="Liberation Serif" style="stroke-width:0.3px">α</text>
<text x="386.45" y="598.55" font-size="9.9" font-weight="normal" letter-spacing="0.000" transform="scale(0.9423 1)" style="stroke-width:0.35px">Ab</text>
<line x1="453.2" y1="576" x2="453.2" y2="742.6" stroke="#000" stroke-width="2"/>
<line x1="452.2" y1="741.6" x2="506.7" y2="741.6" stroke="#000" stroke-width="2"/>
<line x1="450.6" y1="741.6" x2="453.2" y2="741.6" stroke="#000" stroke-width="1.5"/>
<text x="443.93" y="744.8" font-size="9.17" font-weight="bold" letter-spacing="0.000" transform="scale(1.0000 1)">0</text>
<line x1="450.6" y1="714.13" x2="453.2" y2="714.13" stroke="#000" stroke-width="1.5"/>
<text x="438.83" y="717.33" font-size="9.17" font-weight="bold" letter-spacing="0.000" transform="scale(1.0000 1)">20</text>
<line x1="450.6" y1="686.67" x2="453.2" y2="686.67" stroke="#000" stroke-width="1.5"/>
<text x="438.83" y="689.87" font-size="9.17" font-weight="bold" letter-spacing="0.000" transform="scale(1.0000 1)">40</text>
<line x1="450.6" y1="659.2" x2="453.2" y2="659.2" stroke="#000" stroke-width="1.5"/>
<text x="438.83" y="662.4" font-size="9.17" font-weight="bold" letter-spacing="0.000" transform="scale(1.0000 1)">60</text>
<line x1="450.6" y1="631.73" x2="453.2" y2="631.73" stroke="#000" stroke-width="1.5"/>
<text x="438.83" y="634.93" font-size="9.17" font-weight="bold" letter-spacing="0.000" transform="scale(1.0000 1)">80</text>
<line x1="450.6" y1="604.27" x2="453.2" y2="604.27" stroke="#000" stroke-width="1.5"/>
<text x="433.73" y="607.47" font-size="9.17" font-weight="bold" letter-spacing="0.000" transform="scale(1.0000 1)">100</text>
<line x1="450.6" y1="576.8" x2="453.2" y2="576.8" stroke="#000" stroke-width="1.5"/>
<text x="433.73" y="580" font-size="9.17" font-weight="bold" letter-spacing="0.000" transform="scale(1.0000 1)">120</text>
<text x="-757.9" y="429.65" font-size="10.17" font-weight="bold" letter-spacing="0.000" transform="rotate(-90) scale(0.9302 1)">L929 cell viability (%)</text>
<line x1="467" y1="720" x2="467" y2="714.1" stroke="#000" stroke-width="1.8"/>
<line x1="462.65" y1="714.1" x2="471.35" y2="714.1" stroke="#000" stroke-width="1.8"/>
<rect x="458.1" y="720" width="17.9" height="21.6" fill="#4a4a4a" stroke="#2c2c2c" stroke-width="0.9"/>
<line x1="493.4" y1="611.4" x2="493.4" y2="603.7" stroke="#000" stroke-width="1.8"/>
<line x1="489.05" y1="603.7" x2="497.75" y2="603.7" stroke="#000" stroke-width="1.8"/>
<rect x="484" y="611.1" width="18.75" height="130.5" fill="#4a4a4a" stroke="#2c2c2c" stroke-width="0.9"/>
<line x1="467" y1="741.6" x2="467" y2="744.6" stroke="#000" stroke-width="1.4"/>
<line x1="493.4" y1="741.6" x2="493.4" y2="744.6" stroke="#000" stroke-width="1.4"/>
<rect x="464.6" y="751.8" width="4.3" height="2.4" fill="#000"/>
<rect x="490" y="749.9" width="9.6" height="2.4" fill="#000"/>
<rect x="493.6" y="746.5" width="2.4" height="8.9" fill="#000"/>
<text x="420.01" y="768.65" font-size="9.45" font-weight="bold" letter-spacing="0.134" transform="scale(1.0827 1)">TNF-</text>
<text x="255.42" y="768.85" font-size="10.6" font-weight="normal" letter-spacing="0.000" transform="scale(1.8730 1)" font-family="Liberation Serif">α</text>
<text x="427.72" y="768.65" font-size="9.29" font-weight="bold" letter-spacing="0.373" transform="scale(1.1451 1)">Ab</text>
<text x="0.3" y="801.35" font-size="18.31" font-weight="bold" letter-spacing="0.000" transform="scale(0.9197 1)">E</text>
<line x1="44.8" y1="793" x2="44.8" y2="942.8" stroke="#000" stroke-width="2"/>
<line x1="43.8" y1="941.8" x2="264.6" y2="941.8" stroke="#000" stroke-width="2"/>
<line x1="42.2" y1="941.8" x2="44.8" y2="941.8" stroke="#000" stroke-width="1.5"/>
<text x="36.38" y="945.3" font-size="9.17" font-weight="bold" letter-spacing="0.000" transform="scale(1.0000 1)">0</text>
<line x1="42.2" y1="892.43" x2="44.8" y2="892.43" stroke="#000" stroke-width="1.5"/>
<text x="31.28" y="895.93" font-size="9.17" font-weight="bold" letter-spacing="0.000" transform="scale(1.0000 1)">50</text>
<line x1="42.2" y1="843.07" x2="44.8" y2="843.07" stroke="#000" stroke-width="1.5"/>
<text x="26.18" y="846.57" font-size="9.17" font-weight="bold" letter-spacing="-0.000" transform="scale(1.0000 1)">100</text>
<line x1="42.2" y1="793.7" x2="44.8" y2="793.7" stroke="#000" stroke-width="1.5"/>
<text x="26.18" y="797.2" font-size="9.17" font-weight="bold" letter-spacing="-0.000" transform="scale(1.0000 1)">150</text>
<text x="-900.01" y="21.45" font-size="9.88" font-weight="bold" letter-spacing="0.028" transform="rotate(-90) scale(1.0255 1)">L929 cell viability (%)</text>
<line x1="57.15" y1="928" x2="57.15" y2="927.8" stroke="#000" stroke-width="1.6"/>
<line x1="53.9" y1="927.8" x2="60.4" y2="927.8" stroke="#000" stroke-width="1.6"/>
<rect x="49.35" y="928.1" width="15.6" height="13.2" fill="#000" stroke="#000" stroke-width="1.25"/>
<line x1="57.15" y1="941.8" x2="57.15" y2="944.3" stroke="#000" stroke-width="1.3"/>
<line x1="81.35" y1="868.75" x2="81.35" y2="865.3" stroke="#000" stroke-width="1.6"/>
<line x1="78.1" y1="865.3" x2="84.6" y2="865.3" stroke="#000" stroke-width="1.6"/>
<rect x="73.55" y="868.85" width="15.6" height="72.45" fill="#000" stroke="#000" stroke-width="1.25"/>
<path d="M81.35 847.2L81.35 853.8M84.21 848.85L78.49 852.15M84.21 852.15L78.49 848.85" stroke="#000" stroke-width="1.25"/>
<circle cx="81.35" cy="850.5" r="1.1" fill="#000"/>
<line x1="81.35" y1="941.8" x2="81.35" y2="944.3" stroke="#000" stroke-width="1.3"/>
<line x1="105.55" y1="908" x2="105.55" y2="887.8" stroke="#000" stroke-width="1.6"/>
<line x1="102.3" y1="887.8" x2="108.8" y2="887.8" stroke="#000" stroke-width="1.6"/>
<rect x="97.75" y="908.1" width="15.6" height="33.2" fill="#000" stroke="#000" stroke-width="1.25"/>
<line x1="105.55" y1="941.8" x2="105.55" y2="944.3" stroke="#000" stroke-width="1.3"/>
<line x1="129.75" y1="933.25" x2="129.75" y2="933.3" stroke="#000" stroke-width="1.6"/>
<line x1="126.5" y1="933.3" x2="133" y2="933.3" stroke="#000" stroke-width="1.6"/>
<rect x="121.95" y="933.35" width="15.6" height="7.95" fill="url(#pHstripe2)" stroke="#000" stroke-width="1.25"/>
<line x1="129.75" y1="941.8" x2="129.75" y2="944.3" stroke="#000" stroke-width="1.3"/>
<line x1="153.95" y1="886.9" x2="153.95" y2="879.1" stroke="#000" stroke-width="1.6"/>
<line x1="150.7" y1="879.1" x2="157.2" y2="879.1" stroke="#000" stroke-width="1.6"/>
<rect x="146.15" y="887" width="15.6" height="54.3" fill="url(#pHstripe2)" stroke="#000" stroke-width="1.25"/>
<path d="M153.95 860.7L153.95 867.3M156.81 862.35L151.09 865.65M156.81 865.65L151.09 862.35" stroke="#000" stroke-width="1.25"/>
<circle cx="153.95" cy="864" r="1.1" fill="#000"/>
<line x1="153.95" y1="941.8" x2="153.95" y2="944.3" stroke="#000" stroke-width="1.3"/>
<line x1="178.15" y1="930.8" x2="178.15" y2="929.7" stroke="#000" stroke-width="1.6"/>
<line x1="174.9" y1="929.7" x2="181.4" y2="929.7" stroke="#000" stroke-width="1.6"/>
<rect x="170.35" y="930.9" width="15.6" height="10.4" fill="url(#pHstripe2)" stroke="#000" stroke-width="1.25"/>
<line x1="178.15" y1="941.8" x2="178.15" y2="944.3" stroke="#000" stroke-width="1.3"/>
<line x1="202.35" y1="906.5" x2="202.35" y2="903.3" stroke="#000" stroke-width="1.6"/>
<line x1="199.1" y1="903.3" x2="205.6" y2="903.3" stroke="#000" stroke-width="1.6"/>
<rect x="194.55" y="906.6" width="15.6" height="34.7" fill="#fff" stroke="#000" stroke-width="1.25"/>
<line x1="202.35" y1="941.8" x2="202.35" y2="944.3" stroke="#000" stroke-width="1.3"/>
<line x1="221.15" y1="844.9" x2="231.95" y2="844.9" stroke="#000" stroke-width="1.6"/>
<rect x="218.75" y="845.3" width="15.6" height="96" fill="#fff" stroke="#000" stroke-width="1.25"/>
<path d="M226.55 827.3L226.55 833.9M229.41 828.95L223.69 832.25M229.41 832.25L223.69 828.95" stroke="#000" stroke-width="1.25"/>
<circle cx="226.55" cy="830.6" r="1.1" fill="#000"/>
<line x1="226.55" y1="941.8" x2="226.55" y2="944.3" stroke="#000" stroke-width="1.3"/>
<line x1="250.75" y1="895.8" x2="250.75" y2="892.5" stroke="#000" stroke-width="1.6"/>
<line x1="247.5" y1="892.5" x2="254" y2="892.5" stroke="#000" stroke-width="1.6"/>
<rect x="242.95" y="895.9" width="15.6" height="45.4" fill="#fff" stroke="#000" stroke-width="1.25"/>
<line x1="250.75" y1="941.8" x2="250.75" y2="944.3" stroke="#000" stroke-width="1.3"/>
<text x="58.95" y="951.4" font-size="9" font-weight="bold" text-anchor="end" transform="rotate(-45 58.95 951.4)">C/S Ctrl</text>
<text x="83.15" y="951.4" font-size="9" font-weight="bold" text-anchor="end" transform="rotate(-45 83.15 951.4)">LT<tspan font-family="Liberation Serif" font-weight="normal" font-size="10.5">α</tspan>&#160; Ab</text>
<text x="107.35" y="951.4" font-size="9" font-weight="bold" text-anchor="end" transform="rotate(-45 107.35 951.4)">MulgG</text>
<text x="131.55" y="951.4" font-size="9" font-weight="bold" text-anchor="end" transform="rotate(-45 131.55 951.4)">C/S Ctrl</text>
<text x="155.75" y="951.4" font-size="9" font-weight="bold" text-anchor="end" transform="rotate(-45 155.75 951.4)">LT<tspan font-family="Liberation Serif" font-weight="normal" font-size="10.5">α</tspan> Ab</text>
<text x="179.95" y="951.4" font-size="9" font-weight="bold" text-anchor="end" transform="rotate(-45 179.95 951.4)">MulgG</text>
<text x="204.15" y="951.4" font-size="9" font-weight="bold" text-anchor="end" transform="rotate(-45 204.15 951.4)">C/S Ctrl</text>
<text x="228.35" y="951.4" font-size="9" font-weight="bold" text-anchor="end" transform="rotate(-45 228.35 951.4)">LT<tspan font-family="Liberation Serif" font-weight="normal" font-size="10.5">α</tspan> Ab</text>
<text x="252.55" y="951.4" font-size="9" font-weight="bold" text-anchor="end" transform="rotate(-45 252.55 951.4)">MulgG</text>
<rect x="236.5" y="790.6" width="8.4" height="5" fill="#000" stroke="#000" stroke-width="1.1"/>
<text x="222.45" y="795.35" font-size="6.71" font-weight="bold" letter-spacing="0.116" transform="scale(1.1236 1)">KM-H2 C/S</text>
<rect x="236.5" y="802.5" width="8.4" height="5" fill="url(#pHstripe2)" stroke="#000" stroke-width="1.1"/>
<text x="213.83" y="807.15" font-size="6.57" font-weight="bold" letter-spacing="0.139" transform="scale(1.1688 1)">L1236 C/S</text>
<rect x="236.5" y="814.4" width="8.4" height="5" fill="#fff" stroke="#000" stroke-width="1.1"/>
<text x="219.18" y="819.15" font-size="6.71" font-weight="bold" letter-spacing="0.122" transform="scale(1.1403 1)">L428 C/S</text>
<text x="340.23" y="801.35" font-size="18.9" font-weight="bold" letter-spacing="0.000" transform="scale(0.9284 1)">F</text>
<line x1="368.9" y1="795" x2="368.9" y2="841.3" stroke="#000" stroke-width="2"/>
<line x1="368.9" y1="846.5" x2="368.9" y2="945" stroke="#000" stroke-width="2"/>
<line x1="367.2" y1="847.2" x2="370.6" y2="847.2" stroke="#000" stroke-width="1.5"/>
<line x1="366.3" y1="795.7" x2="368.9" y2="795.7" stroke="#000" stroke-width="1.5"/>
<text x="279.19" y="798.45" font-size="6.69" font-weight="bold" letter-spacing="0.176" transform="scale(1.2148 1)">20,000</text>
<line x1="366.3" y1="810.7" x2="368.9" y2="810.7" stroke="#000" stroke-width="1.5"/>
<text x="276.78" y="813.45" font-size="6.69" font-weight="bold" letter-spacing="0.181" transform="scale(1.2246 1)">15,000</text>
<line x1="366.3" y1="825.7" x2="368.9" y2="825.7" stroke="#000" stroke-width="1.5"/>
<text x="276.78" y="828.45" font-size="6.69" font-weight="bold" letter-spacing="0.181" transform="scale(1.2246 1)">10,000</text>
<line x1="366.3" y1="840.9" x2="368.9" y2="840.9" stroke="#000" stroke-width="1.5"/>
<text x="287.01" y="843.65" font-size="6.69" font-weight="bold" letter-spacing="0.169" transform="scale(1.1993 1)">5,000</text>
<line x1="366.3" y1="944.3" x2="368.9" y2="944.3" stroke="#000" stroke-width="1.5"/>
<text x="310.02" y="946.85" font-size="6.69" font-weight="bold" letter-spacing="0.000" transform="scale(1.1636 1)">0</text>
<line x1="366.3" y1="920.03" x2="368.9" y2="920.03" stroke="#000" stroke-width="1.5"/>
<text x="301.37" y="922.58" font-size="6.69" font-weight="bold" letter-spacing="0.191" transform="scale(1.1667 1)">500</text>
<line x1="366.3" y1="895.77" x2="368.9" y2="895.77" stroke="#000" stroke-width="1.5"/>
<text x="283.61" y="898.32" font-size="6.69" font-weight="bold" letter-spacing="0.176" transform="scale(1.2127 1)">1,000</text>
<line x1="366.3" y1="871.5" x2="368.9" y2="871.5" stroke="#000" stroke-width="1.5"/>
<text x="283.61" y="874.05" font-size="6.69" font-weight="bold" letter-spacing="0.176" transform="scale(1.2127 1)">1,500</text>
<line x1="367.9" y1="944.3" x2="518.5" y2="944.3" stroke="#000" stroke-width="2"/>
<text x="-1100.16" y="335.35" font-size="10.47" font-weight="bold" letter-spacing="0.000" transform="rotate(-90) scale(0.8447 1)">Concentration of LT<tspan font-family="Liberation Serif" font-weight="normal">α</tspan> (pg/ml)</text>
<line x1="387.3" y1="876.2" x2="387.3" y2="865.3" stroke="#000" stroke-width="1.8"/>
<line x1="381.15" y1="865.3" x2="393.45" y2="865.3" stroke="#000" stroke-width="1.8"/>
<rect x="375" y="876" width="24.6" height="68.3" fill="#4a4a4a" stroke="#2c2c2c" stroke-width="0.9"/>
<line x1="424.2" y1="828.3" x2="424.2" y2="809.6" stroke="#000" stroke-width="1.8"/>
<line x1="418.05" y1="809.6" x2="430.35" y2="809.6" stroke="#000" stroke-width="1.8"/>
<rect x="411.9" y="828.2" width="25.1" height="12.6" fill="#4a4a4a" stroke="#2c2c2c" stroke-width="0.9"/>
<rect x="411.9" y="847.6" width="25.1" height="96.7" fill="#4a4a4a" stroke="#2c2c2c" stroke-width="0.9"/>
<line x1="461.5" y1="919" x2="461.5" y2="911.7" stroke="#000" stroke-width="1.8"/>
<line x1="455.8" y1="911.7" x2="467.2" y2="911.7" stroke="#000" stroke-width="1.8"/>
<rect x="449.2" y="918.7" width="24.6" height="25.6" fill="#4a4a4a" stroke="#2c2c2c" stroke-width="0.9"/>
<line x1="493" y1="942.6" x2="506" y2="942.6" stroke="#000" stroke-width="1.6"/>
<rect x="486.8" y="942.8" width="25.5" height="1.5" fill="#4a4a4a"/>
<line x1="387.4" y1="944.3" x2="387.4" y2="946.8" stroke="#000" stroke-width="1.3"/>
<line x1="423.5" y1="944.3" x2="423.5" y2="946.8" stroke="#000" stroke-width="1.3"/>
<line x1="461.5" y1="944.3" x2="461.5" y2="946.8" stroke="#000" stroke-width="1.3"/>
<line x1="499.5" y1="944.3" x2="499.5" y2="946.8" stroke="#000" stroke-width="1.3"/>
<text x="333.3" y="955.75" font-size="7.73" font-weight="bold" letter-spacing="0.158" transform="scale(1.1196 1)">KM-H2</text>
<text x="353.06" y="955.75" font-size="7.73" font-weight="bold" letter-spacing="0.187" transform="scale(1.1654 1)">L1236</text>
<text x="423.24" y="955.75" font-size="7.73" font-weight="bold" letter-spacing="0.089" transform="scale(1.0677 1)">L428</text>
<text x="458.65" y="955.75" font-size="7.73" font-weight="bold" letter-spacing="0.088" transform="scale(1.0670 1)">L540</text>
<text x="400.83" y="969.25" font-size="8.43" font-weight="bold" letter-spacing="0.029" transform="scale(1.0265 1)">HRS Cell Lines</text>
</g>
</svg>
</body></html>
